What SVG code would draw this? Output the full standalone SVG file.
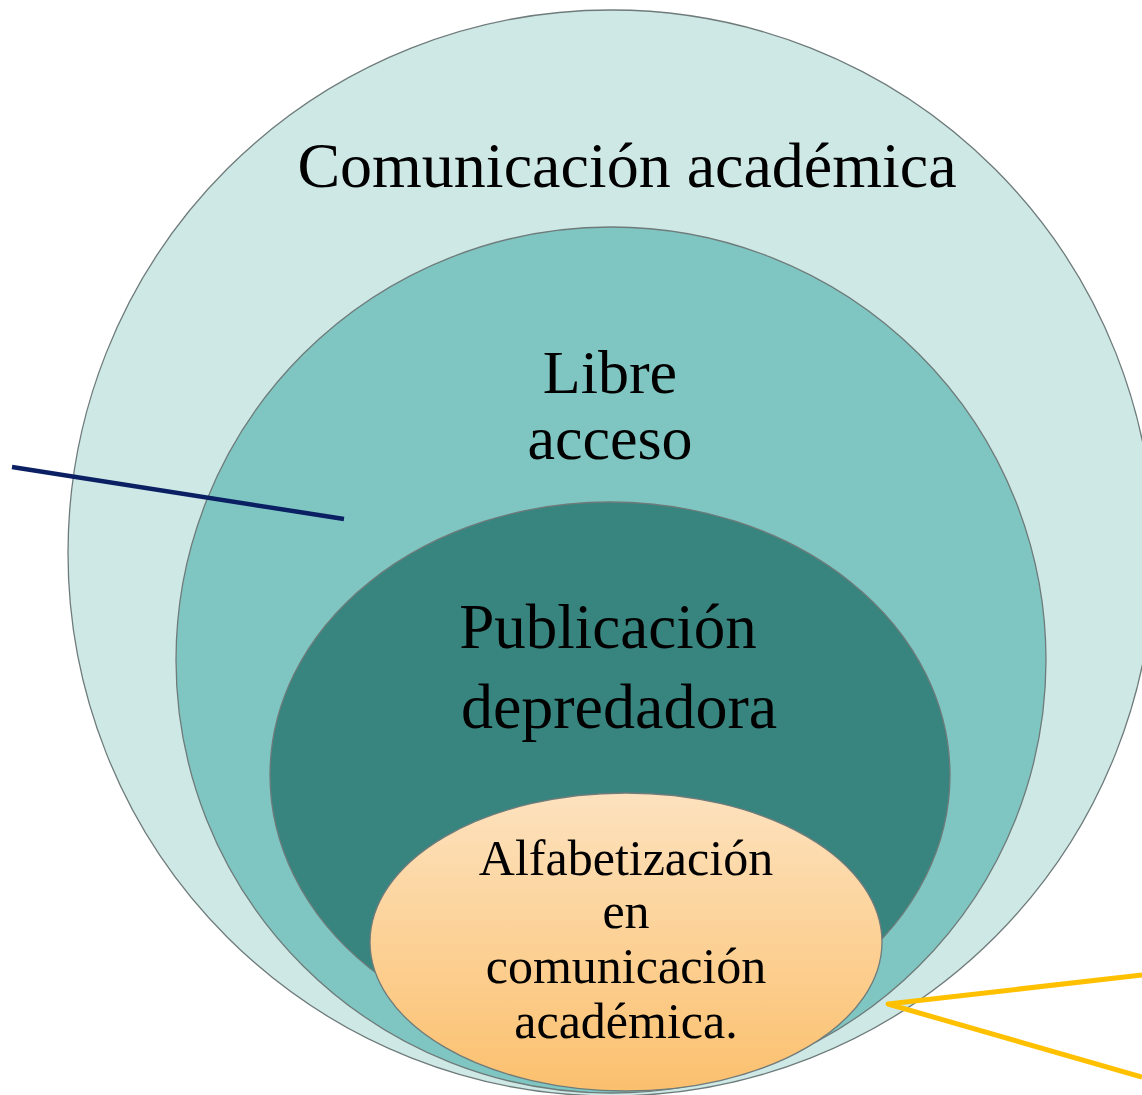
<svg xmlns="http://www.w3.org/2000/svg" width="1142" height="1095" viewBox="0 0 1142 1095">
<defs>
<linearGradient id="og" x1="0" y1="0" x2="0" y2="1">
<stop offset="0" stop-color="#FDE2BE"/>
<stop offset="1" stop-color="#FBC06E"/>
</linearGradient>
<style>
.t{font-family:"Liberation Serif","Times New Roman",serif;fill:#000;text-anchor:middle}
.e{stroke:#6E7B7A;stroke-width:1.3}
</style>
</defs>
<rect width="1142" height="1095" fill="#fff"/>
<g id="node-comunicacion">
<ellipse class="e" cx="611" cy="553" rx="543" ry="543" fill="#CEE8E6"/>
<text class="t" x="627" y="187" font-size="64">Comunicación académica</text>
</g>
<g id="node-libre-acceso">
<ellipse class="e" cx="611" cy="660" rx="435" ry="433" fill="#7FC6C2"/>
<text class="t" x="610" y="393" font-size="62">Libre</text>
<text class="t" x="610" y="459" font-size="62">acceso</text>
</g>
<g id="node-publicacion">
<ellipse class="e" cx="610" cy="775" rx="340" ry="273" fill="#388580" stroke="#3F5D5B"/>
<text class="t" x="608" y="648" font-size="63">Publicación</text>
<text class="t" x="619" y="728" font-size="64">depredadora</text>
</g>
<g id="node-alfabetizacion">
<ellipse class="e" cx="626" cy="942" rx="256" ry="149" fill="url(#og)" stroke="#5E5A55"/>
<text class="t" x="626" y="875" font-size="50">Alfabetización</text>
<text class="t" x="626" y="928" font-size="50">en</text>
<text class="t" x="626" y="983" font-size="50">comunicación</text>
<text class="t" x="626" y="1038" font-size="50">académica.</text>
</g>
<g id="connectors" fill="none" stroke-linecap="butt">
<line x1="12" y1="467" x2="344" y2="519" stroke="#0A2063" stroke-width="4.5"/>
<polyline points="1142,975 888,1004 1142,1077" stroke="#FFC000" stroke-width="5" stroke-linejoin="round"/>
</g>
</svg>
